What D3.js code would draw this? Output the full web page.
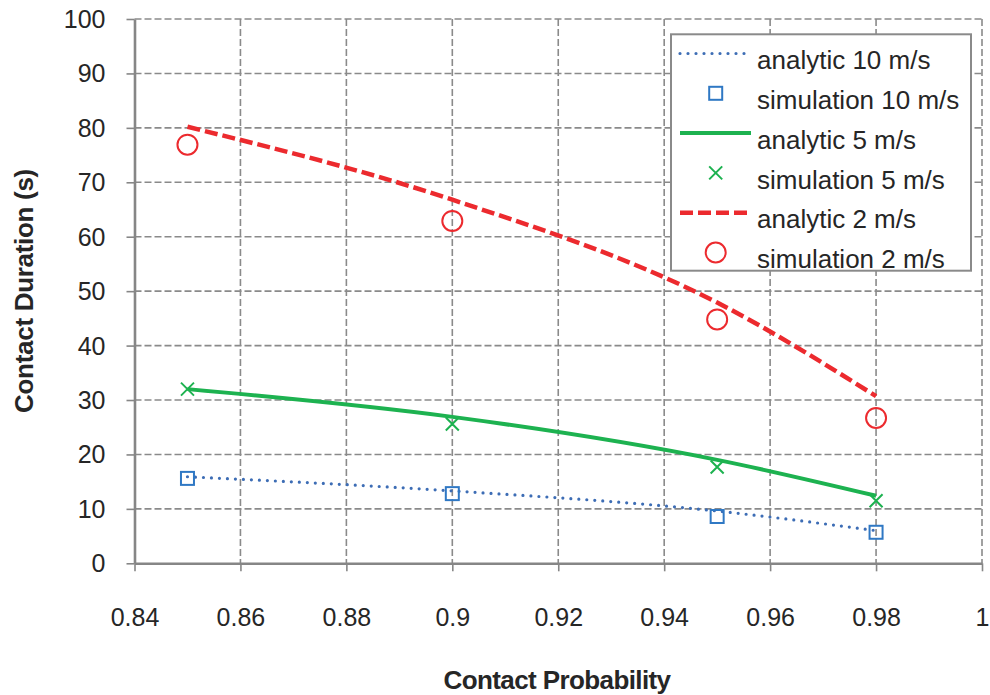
<!DOCTYPE html>
<html>
<head>
<meta charset="utf-8">
<script src="https://cdn.jsdelivr.net/npm/d3@7"></script>
<style>
  body { margin: 0; background: #fff; }
  svg { display: block; font-family: "Liberation Sans", Arial, sans-serif; }
</style>
</head>
<body>
<svg id="chart" width="990" height="695"></svg>
<script>
const probs = [0.85, 0.9, 0.95, 0.98];
const analytic10 = [15.9, 13.3, 9.6, 6.0];
const sim10 = [15.6, 12.8, 8.6, 5.7];
const analytic5 = [32.0, 26.9, 19.0, 12.4];
const sim5 = [32.0, 25.6, 17.7, 11.5];
const analytic2 = [80.2, 66.8, 47.9, 30.7];
const sim2 = [76.9, 62.9, 44.8, 26.7];

const xTicks = [0.84, 0.86, 0.88, 0.9, 0.92, 0.94, 0.96, 0.98, 1];
const yTicks = [0, 10, 20, 30, 40, 50, 60, 70, 80, 90, 100];
const legendLabels = [
  'analytic 10 m/s', 'simulation 10 m/s',
  'analytic 5 m/s', 'simulation 5 m/s',
  'analytic 2 m/s', 'simulation 2 m/s'
];

const config = {
  'left': 134.5,
  'right': 982,
  'top': 19,
  'bottom': 563.3,
  'grid': '#8a8a8a',
  'text': '#262626',
  'blue': '#3d6db5',
  'blueMark': '#2f78c4',
  'green': '#1db250',
  'red': '#ec2a2e'
};

const svg = d3.select('#chart');

const x = d3.scaleLinear().domain([0.84, 1]).range([config['left'], config['right']]);
const y = d3.scaleLinear().domain([0, 100]).range([config['bottom'], config['top']]);

// dashed grid
const grid = svg.append('g').attr('class', 'grid');
grid.selectAll('line.gx')
  .data(xTicks.slice(1))
  .enter()
  .append('line')
  .attr('x1', d => x(d)).attr('x2', d => x(d))
  .attr('y1', config['top']).attr('y2', config['bottom']);
grid.selectAll('line.gy')
  .data(yTicks.slice(1))
  .enter()
  .append('line')
  .attr('x1', config['left']).attr('x2', config['right'])
  .attr('y1', d => y(d)).attr('y2', d => y(d));
grid.selectAll('line')
  .style('stroke', config['grid'])
  .style('stroke-width', 1.6)
  .style('stroke-dasharray', '7,3');

// axes
const xAxis = svg.append('g')
  .attr('transform', `translate(0, ${config['bottom']})`)
  .call(d3.axisBottom(x).tickValues(xTicks).tickFormat(d => d).tickSize(8).tickSizeOuter(0).tickPadding(37));
const yAxis = svg.append('g')
  .attr('transform', `translate(${config['left']}, 0)`)
  .call(d3.axisLeft(y).tickValues(yTicks).tickSize(8).tickSizeOuter(0).tickPadding(21));

[xAxis, yAxis].forEach(a => {
  a.select('.domain').style('stroke', '#868686').style('stroke-width', 2.6);
  a.selectAll('.tick line').style('stroke', '#868686').style('stroke-width', 1.6);
  a.selectAll('.tick text')
    .style('font-size', '25px')
    .style('fill', config['text']);
});
yAxis.selectAll('.tick text').attr('dy', '0.34em');

// axis titles
svg.append('text')
  .attr('x', 557)
  .attr('y', 689)
  .attr('text-anchor', 'middle')
  .style('font-size', '26px')
  .style('font-weight', 'bold')
  .style('letter-spacing', '-0.6px')
  .style('fill', config['text'])
  .text('Contact Probability');

svg.append('text')
  .attr('transform', 'translate(33, 291) rotate(-90)')
  .attr('text-anchor', 'middle')
  .style('font-size', '26px')
  .style('font-weight', 'bold')
  .style('letter-spacing', '-0.3px')
  .style('fill', config['text'])
  .text('Contact Duration (s)');

// series
const pts = vals => probs.map((p, i) => ({ x: p, y: vals[i] }));
const line = d3.line()
  .x(d => x(d.x))
  .y(d => y(d.y))
  .curve(d3.curveMonotoneX);

const plot = svg.append('g').attr('class', 'series');

plot.append('path')
  .attr('d', line(pts(analytic10)))
  .style('fill', 'none')
  .style('stroke', config['blue'])
  .style('stroke-width', 3.2)
  .style('stroke-linecap', 'round')
  .style('stroke-dasharray', '0,8');

plot.append('path')
  .attr('d', line(pts(analytic5)))
  .style('fill', 'none')
  .style('stroke', config['green'])
  .style('stroke-width', 4);

plot.append('path')
  .attr('d', line(pts(analytic2)))
  .style('fill', 'none')
  .style('stroke', config['red'])
  .style('stroke-width', 4.5)
  .style('stroke-dasharray', '13,5');

function square(g, cx, cy) {
  g.append('rect')
    .attr('x', cx - 6.5).attr('y', cy - 6.5)
    .attr('width', 13).attr('height', 13)
    .style('fill', 'none')
    .style('stroke', config['blueMark'])
    .style('stroke-width', 2);
}
function cross(g, cx, cy) {
  g.append('path')
    .attr('d', `M${cx - 6.5},${cy - 6.5}L${cx + 6.5},${cy + 6.5}M${cx - 6.5},${cy + 6.5}L${cx + 6.5},${cy - 6.5}`)
    .style('fill', 'none')
    .style('stroke', config['green'])
    .style('stroke-width', 2);
}
function circle(g, cx, cy) {
  g.append('circle')
    .attr('cx', cx).attr('cy', cy).attr('r', 10)
    .style('fill', 'none')
    .style('stroke', config['red'])
    .style('stroke-width', 2);
}

pts(sim10).forEach(d => square(plot, x(d.x), y(d.y)));
pts(sim5).forEach(d => cross(plot, x(d.x), y(d.y)));
pts(sim2).forEach(d => circle(plot, x(d.x), y(d.y)));

// legend
const legend = svg.append('g').attr('class', 'legend');
legend.append('rect')
  .attr('x', 671).attr('y', 34.3)
  .attr('width', 300).attr('height', 236.4)
  .style('fill', '#fff')
  .style('stroke', '#8a8a8a')
  .style('stroke-width', 2);

const rowY = i => 53.5 + i * 39.8;
const lineRow = (i, color, width, dash, cap) => {
  legend.append('line')
    .attr('x1', 680).attr('x2', 751)
    .attr('y1', rowY(i)).attr('y2', rowY(i))
    .style('stroke', color)
    .style('stroke-width', width)
    .style('stroke-dasharray', dash)
    .style('stroke-linecap', cap);
};
lineRow(0, config['blue'], 3.2, '0,8', 'round');
square(legend, 715.7, rowY(1));
lineRow(2, config['green'], 4, null, 'butt');
cross(legend, 715.7, rowY(3));
lineRow(4, config['red'], 4.5, '13,5', 'butt');
circle(legend, 715.7, rowY(5));

legend.selectAll('text.lbl')
  .data(legendLabels)
  .enter()
  .append('text')
  .attr('x', 757)
  .attr('y', (d, i) => rowY(i) + 6.5)
  .attr('dy', '0.35em')
  .style('font-size', '26px')
  .style('fill', config['text'])
  .text(d => d);
</script>
</body>
</html>
